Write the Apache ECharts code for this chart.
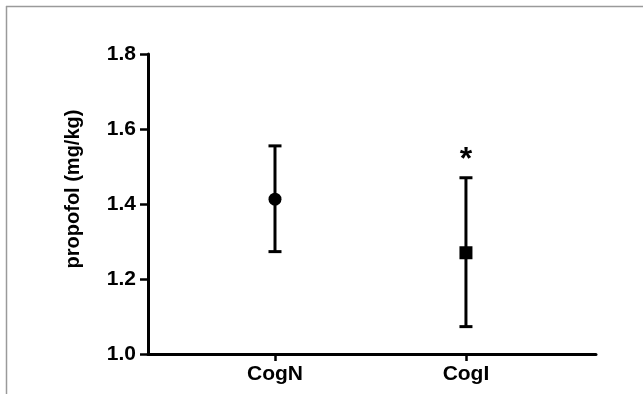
<!DOCTYPE html>
<html>
<head>
<meta charset="utf-8">
<script src="https://cdn.jsdelivr.net/npm/echarts@6/dist/echarts.min.js"></script>
<style>html,body{margin:0;padding:0;background:#fff}#c{width:643px;height:394px}</style>
</head>
<body>
<div id="c"></div>
<script>
var categories = ['CogN', 'CogI'];
var means = [1.413, 1.270];
var upper = [1.555, 1.470];
var lower = [1.273, 1.073];
var markers = ['circle', 'rect'];
var significance = ['', '*'];
var yTicks = [1.0, 1.2, 1.4, 1.6, 1.8];
var yTitle = 'propofol (mg/kg)';

var chart = echarts.init(document.getElementById('c'), null, {renderer: 'canvas'});
var font = '"Liberation Sans", Arial, sans-serif';

var errData = categories.map(function (c, i) { return [i, lower[i], upper[i], significance[i]]; });
var meanData = categories.map(function (c, i) { return {value: [i, means[i]], symbol: markers[i], symbolSize: 13}; });

chart.setOption({
  animation: false,
  backgroundColor: '#fff',
  grid: {left: 148, right: 47, top: 54, bottom: 40, containLabel: false},
  xAxis: {
    type: 'value', min: -0.665, max: 1.681,
    splitLine: {show: false},
    axisLine: {show: true, onZero: false, lineStyle: {color: '#000', width: 3}},
    axisTick: {show: true, customValues: [0, 1], length: 7, lineStyle: {color: '#000', width: 2.5}},
    axisLabel: {
      customValues: [0, 1], margin: 10,
      fontFamily: font, fontWeight: 'bold', fontSize: 21, color: '#000',
      formatter: function (v) { return categories[Math.round(v)]; }
    }
  },
  yAxis: {
    type: 'value', min: yTicks[0], max: yTicks[yTicks.length - 1], interval: 0.2,
    splitLine: {show: false},
    axisLine: {show: true, onZero: false, lineStyle: {color: '#000', width: 3}},
    axisTick: {show: true, length: 8, lineStyle: {color: '#000', width: 2.5}},
    axisLabel: {
      margin: 12, fontFamily: font, fontWeight: 'bold', fontSize: 21, color: '#000',
      formatter: function (v) { return v.toFixed(1); }
    }
  },
  graphic: [
    {type: 'line', shape: {x1: 6, y1: 6.5, x2: 643, y2: 6.5}, style: {stroke: '#9a9a9a', lineWidth: 1.5}, silent: true},
    {type: 'line', shape: {x1: 6.5, y1: 6, x2: 6.5, y2: 394}, style: {stroke: '#9a9a9a', lineWidth: 1.5}, silent: true},
    {type: 'text', x: 73, y: 189, rotation: Math.PI / 2,
     style: {text: yTitle, font: 'bold 20px ' + font, fill: '#000', align: 'center', verticalAlign: 'middle'}}
  ],
  series: [
    {
      type: 'custom',
      data: errData,
      encode: {x: 0, y: [1, 2]},
      renderItem: function (params, api) {
        var x = api.value(0);
        var lo = api.coord([x, api.value(1)]);
        var hi = api.coord([x, api.value(2)]);
        var hw = 6.5;
        var children = [
          {type: 'line', shape: {x1: lo[0], y1: lo[1], x2: hi[0], y2: hi[1]}, style: {stroke: '#000', lineWidth: 3}},
          {type: 'line', shape: {x1: hi[0] - hw, y1: hi[1], x2: hi[0] + hw, y2: hi[1]}, style: {stroke: '#000', lineWidth: 3}},
          {type: 'line', shape: {x1: lo[0] - hw, y1: lo[1], x2: lo[0] + hw, y2: lo[1]}, style: {stroke: '#000', lineWidth: 3}}
        ];
        var sig = api.value(3);
        if (sig) {
          children.push({type: 'text', x: hi[0], y: hi[1] - 18,
            style: {text: sig, font: 'bold 32px ' + font, fill: '#000', align: 'center', verticalAlign: 'middle'}});
        }
        return {type: 'group', children: children};
      },
      z: 2
    },
    {
      type: 'scatter',
      data: meanData,
      itemStyle: {color: '#000', opacity: 1},
      z: 3
    }
  ]
});
</script>
</body>
</html>
